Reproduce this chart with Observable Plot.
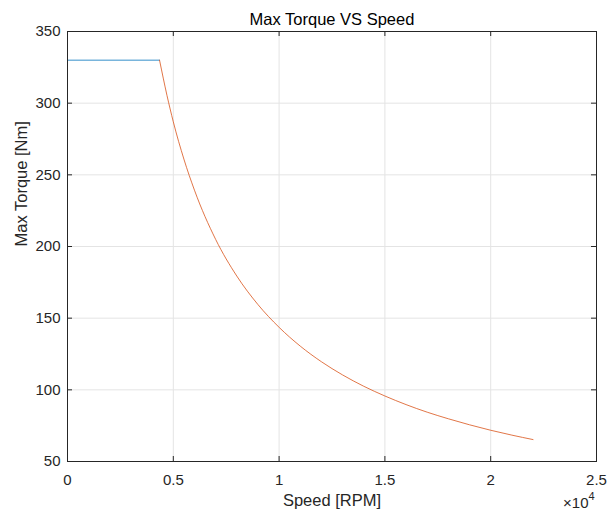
<!DOCTYPE html>
<html>
<head>
<meta charset="utf-8">
<script src="https://cdn.jsdelivr.net/npm/d3@7"></script>
<script src="https://cdn.jsdelivr.net/npm/@observablehq/plot@0.6"></script>
<style>
  html, body { margin: 0; padding: 0; background: #fff; }
  #chart svg { display: block; font-family: "Liberation Sans", Arial, Helvetica, sans-serif; }
</style>
</head>
<body>
<div id="chart"></div>
<script>
// Constant-torque region (blue)
const speedConst = [0, 4350];
const torqueConst = [330, 330];
// Field-weakening region (orange)
const speedWeak = [4350, 4700, 5000, 5500, 6000, 7000, 8000, 9000, 10000, 11000, 12000, 13000, 14000, 15000, 16000, 17000, 18000, 19000, 20000, 21000, 22000];
const torqueWeak = [330, 305.5, 287, 261, 239.3, 205, 179.4, 159.5, 143.6, 130.5, 119.6, 110.4, 102.5, 95.7, 89.7, 84.4, 79.8, 75.6, 71.8, 68.4, 65.3];
// Axis ticks
const xTicks = [0, 5000, 10000, 15000, 20000, 25000];
const xTickLabels = ["0", "0.5", "1", "1.5", "2", "2.5"];
const yTicks = [50, 100, 150, 200, 250, 300, 350];
const yTickLabels = ["50", "100", "150", "200", "250", "300", "350"];

const title = "Max Torque VS Speed";
const xLabel = "Speed [RPM]";
const yLabel = "Max Torque [Nm]";

const W = 607, H = 513;
const mL = 67, mR = 11, mT = 31, mB = 52;
const fw = W - mL - mR, fh = H - mT - mB;
const tickLen = 5;
const ink = "#262626";

const constData = speedConst.map((s, i) => ({s, t: torqueConst[i]}));
const weakData = speedWeak.map((s, i) => ({s, t: torqueWeak[i]}));

const chart = Plot.plot({
  width: W, height: H,
  marginLeft: mL, marginRight: mR, marginTop: mT, marginBottom: mB,
  style: {fontFamily: '"Liberation Sans", Arial, sans-serif', background: "#fff"},
  x: {domain: [0, 25000], axis: null},
  y: {domain: [50, 350], axis: null},
  marks: [
    Plot.ruleX(xTicks.slice(1, -1), {x: d => d, stroke: "#e4e4e4", strokeWidth: 1}),
    Plot.ruleY(yTicks.slice(1, -1), {y: d => d, stroke: "#e4e4e4", strokeWidth: 1}),
    Plot.line(constData, {x: "s", y: "t", stroke: "#0072BD", strokeWidth: 0.8}),
    Plot.line(weakData, {x: "s", y: "t", stroke: "#D95319", strokeWidth: 0.8, curve: "monotone-x"}),
    Plot.frame({stroke: ink, strokeWidth: 1}),
    // inward ticks, all four sides
    Plot.tickX(xTicks, {x: d => d, insetTop: fh - tickLen, stroke: ink}),
    Plot.tickX(xTicks, {x: d => d, insetBottom: fh - tickLen, stroke: ink}),
    Plot.tickY(yTicks, {y: d => d, insetRight: fw - tickLen, stroke: ink}),
    Plot.tickY(yTicks, {y: d => d, insetLeft: fw - tickLen, stroke: ink}),
    // tick labels
    Plot.text(xTicks, {x: d => d, frameAnchor: "bottom", lineAnchor: "middle", dy: 19, text: (d, i) => xTickLabels[i], fontSize: 15, fill: ink}),
    Plot.text(yTicks, {y: d => d, frameAnchor: "left", lineAnchor: "middle", dx: -7, textAnchor: "end", text: (d, i) => yTickLabels[i], fontSize: 15, fill: ink}),
    // labels
    Plot.text([title], {frameAnchor: "top", lineAnchor: "middle", dy: -12, text: d => d, fontSize: 16.5, fill: "#000"}),
    Plot.text([xLabel], {frameAnchor: "bottom", lineAnchor: "middle", dy: 39, text: d => d, fontSize: 16.5, fill: ink}),
    Plot.text([yLabel], {frameAnchor: "left", lineAnchor: "middle", dx: -46, rotate: -90, text: d => d, fontSize: 16.5, fill: ink}),
    Plot.text(["×10"], {frameAnchor: "bottom-right", lineAnchor: "middle", dx: -8, dy: 42, textAnchor: "end", text: d => d, fontSize: 15, fill: ink}),
    Plot.text(["4"], {frameAnchor: "bottom-right", lineAnchor: "middle", dx: -8, dy: 35, textAnchor: "start", text: d => d, fontSize: 11, fill: ink})
  ]
});
document.getElementById("chart").appendChild(chart);
</script>
</body>
</html>
